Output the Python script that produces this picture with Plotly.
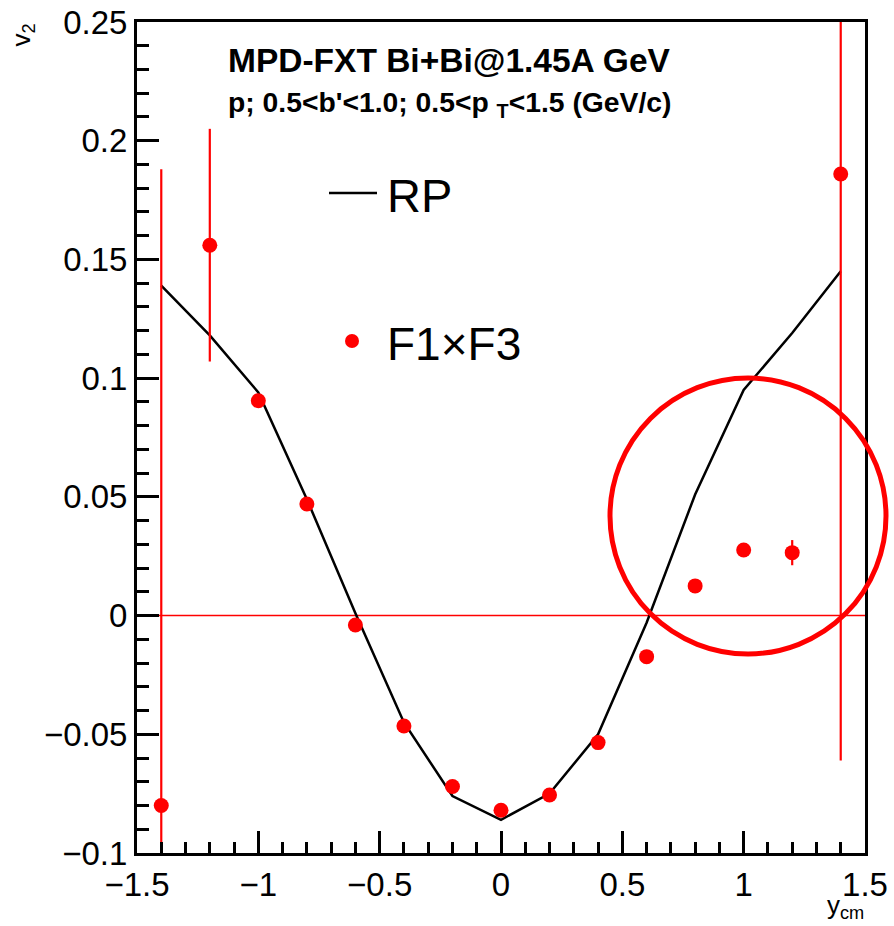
import plotly.graph_objects as go

# ---- data ----
y_cm = [-1.4, -1.2, -1.0, -0.8, -0.6, -0.4, -0.2, 0.0, 0.2, 0.4, 0.6, 0.8, 1.0, 1.2, 1.4]
v2_rp = [0.139, 0.118, 0.094, 0.049, 0.001, -0.045, -0.076, -0.086, -0.075, -0.050,
         -0.003, 0.051, 0.095, 0.119, 0.145]
v2_f1f3 = [-0.080, 0.156, 0.0905, 0.047, -0.004, -0.0465, -0.072, -0.082, -0.0756,
           -0.0535, -0.0173, 0.0125, 0.0276, 0.0265, 0.186]
err_f1f3 = [0.268, 0.049, 0.002, 0.002, 0.002, 0.002, 0.002, 0.002, 0.002, 0.002,
            0.002, 0.002, 0.002, 0.0053, 0.247]

title1 = "MPD-FXT Bi+Bi@1.45A GeV"
title2 = "p; 0.5&lt;b'&lt;1.0; 0.5&lt;p <sub>T</sub>&lt;1.5 (GeV/c)"
legend_labels = ["RP", "F1×F3"]

RED = "#ff0000"
FONT = "Liberation Sans, Arial, sans-serif"

fig = go.Figure()

fig.add_trace(go.Scatter(
    x=y_cm, y=v2_rp, mode="lines", name="RP",
    line=dict(color="black", width=2.5), showlegend=False))

fig.add_trace(go.Scatter(
    x=y_cm, y=v2_f1f3, mode="markers", name="F1×F3",
    marker=dict(color=RED, size=15),
    error_y=dict(type="data", array=err_f1f3, color=RED, thickness=2.2, width=0),
    showlegend=False, cliponaxis=True))

axis_common = dict(
    showline=True, linecolor="black", linewidth=3, mirror=True,
    ticks="inside", tickcolor="black", tickwidth=2.5, ticklen=22,
    showgrid=False, zeroline=False, automargin=False,
    tickfont=dict(family=FONT, size=33, color="black"),
)

fig.update_xaxes(range=[-1.5, 1.5], tickmode="array",
                 tickvals=[-1.5, -1, -0.5, 0, 0.5, 1, 1.5],
                 ticktext=["\u22121.5", "\u22121", "\u22120.5", "0", "0.5", "1", "1.5"],
                 minor=dict(ticks="inside", ticklen=11, tickwidth=2.5, tickcolor="black",
                            dtick=0.1, tick0=0),
                 **axis_common)
fig.update_yaxes(range=[-0.1, 0.25], tickmode="array",
                 tickvals=[-0.1, -0.05, 0, 0.05, 0.1, 0.15, 0.2, 0.25],
                 ticktext=["\u22120.1", "\u22120.05", "0", "0.05", "0.1", "0.15", "0.2", "0.25"],
                 minor=dict(ticks="inside", ticklen=12, tickwidth=2.5, tickcolor="black",
                            dtick=0.01, tick0=0),
                 **axis_common)

L, R, T, B = 137, 865, 22, 853
W, H = R - L, B - T


def px(x):
    return (x - L) / W


def py(y):
    return (B - y) / H


shapes = [
    # zero line
    dict(type="line", xref="paper", yref="y", x0=0, x1=1, y0=0, y1=0,
         line=dict(color=RED, width=1.5), layer="below"),
    # highlight circle
    dict(type="circle", xref="paper", yref="paper",
         x0=px(610), x1=px(886), y0=py(654), y1=py(378),
         line=dict(color=RED, width=5)),
    # legend line sample
    dict(type="line", xref="paper", yref="paper",
         x0=px(329), x1=px(377), y0=py(193), y1=py(193),
         line=dict(color="black", width=2.5)),
    # legend marker sample
    dict(type="circle", xref="paper", yref="paper",
         x0=px(345), x1=px(359), y0=py(348), y1=py(334),
         fillcolor=RED, line=dict(color=RED, width=0)),
]

annotations = [
    dict(text="<b>" + title1 + "</b>", xref="paper", yref="paper",
         x=px(226), y=py(60), xanchor="left", yanchor="middle",
         showarrow=False, font=dict(family=FONT, size=33.5, color="black")),
    dict(text="<b>" + title2 + "</b>", xref="paper", yref="paper",
         x=px(226), y=py(104), xanchor="left", yanchor="middle",
         showarrow=False, font=dict(family=FONT, size=28.3, color="black")),
    dict(text=legend_labels[0], xref="paper", yref="paper",
         x=px(385), y=py(196), xanchor="left", yanchor="middle",
         showarrow=False, font=dict(family=FONT, size=47, color="black")),
    dict(text=legend_labels[1], xref="paper", yref="paper",
         x=px(385), y=py(344), xanchor="left", yanchor="middle",
         showarrow=False, font=dict(family=FONT, size=46, color="black")),
    dict(text="v<sub>2</sub>", xref="paper", yref="paper",
         x=px(22), y=1.0, xanchor="center", yanchor="top", textangle=-90,
         showarrow=False, font=dict(family=FONT, size=26, color="black")),
    dict(text="y<sub>cm</sub>", xref="paper", yref="paper",
         x=px(866), y=py(888), xanchor="right", yanchor="top",
         showarrow=False, font=dict(family=FONT, size=26, color="black")),
]

fig.update_layout(
    width=894, height=926,
    margin=dict(l=L, r=894 - R, t=T, b=926 - B),
    paper_bgcolor="white", plot_bgcolor="white",
    shapes=shapes, annotations=annotations,
    showlegend=False,
)

fig.write_html("out.html")
